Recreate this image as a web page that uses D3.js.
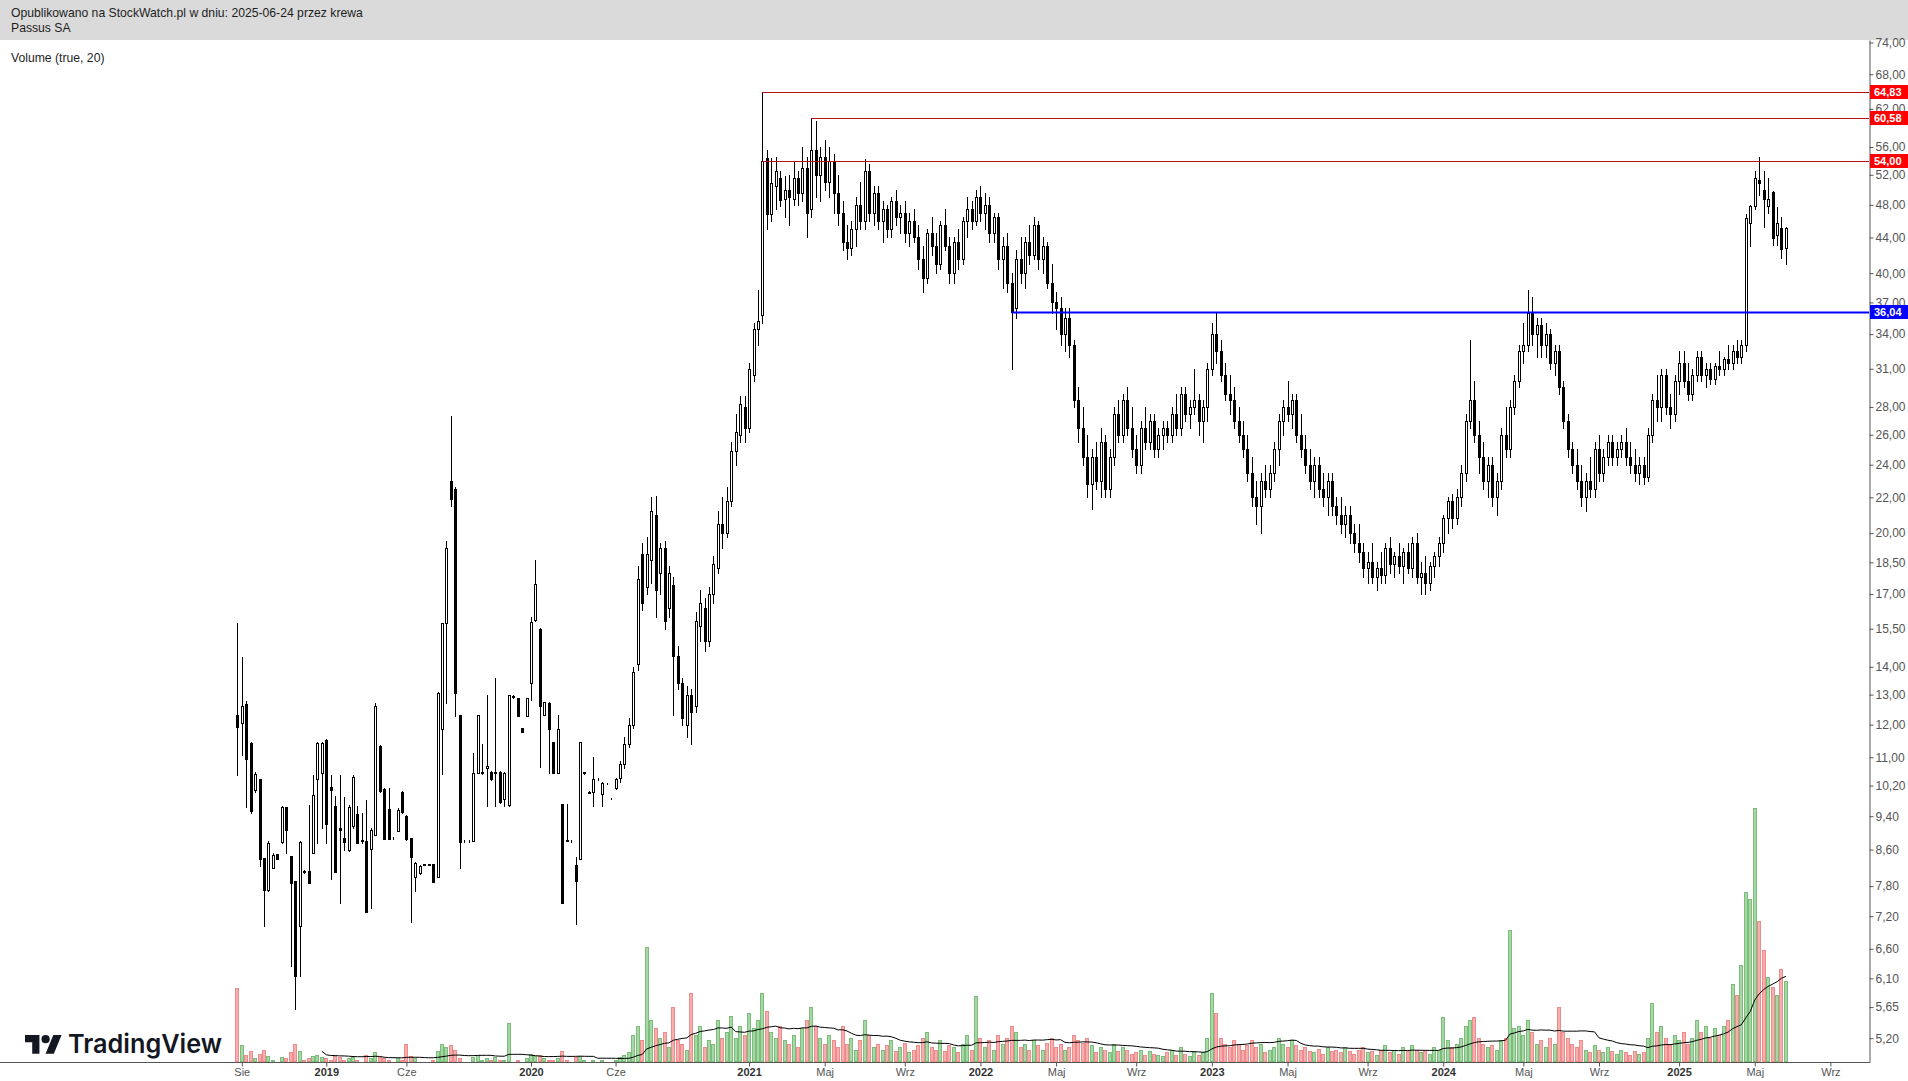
<!DOCTYPE html>
<html><head><meta charset="utf-8">
<script src="https://cdn.jsdelivr.net/npm/d3@7"></script>
<style>
html,body{margin:0;padding:0;background:#fff;}
svg{display:block;font-family:"Liberation Sans",Arial,sans-serif;}
</style></head><body>
<svg id="c" width="1908" height="1081"></svg>
<script>
// Weekly candles, Passus SA, Aug 2018 – Jun 2025
const opens=[
12.31,12.05,12.68,11.43,10.08,10.38,8.40,7.72,8.18,8.50,
8.78,9.63,8.45,7.91,7.02,8.12,8.12,8.52,10.38,10.55,
11.52,10.15,9.65,9.10,8.87,8.59,9.15,9.45,8.82,8.80,
8.61,8.95,11.34,10.10,9.57,8.88,9.03,10.03,9.40,8.88,
7.99,8.07,8.27,8.27,8.27,7.99,11.87,15.73,23.00,22.50,
12.31,8.80,8.80,8.80,10.55,10.55,10.70,10.57,10.55,10.57,
9.84,9.68,12.95,12.87,11.90,12.27,13.40,15.86,15.50,12.31,
12.71,11.46,10.55,9.70,8.82,8.80,8.26,8.38,10.55,10.03,
10.03,10.38,9.97,10.24,9.87,10.13,10.40,10.80,11.40,12.00,
14.10,18.90,17.30,18.60,21.00,18.00,19.20,16.40,17.40,14.40,
13.40,12.00,13.00,12.60,15.60,16.40,15.00,17.00,18.20,20.50,
20.00,21.80,24.90,26.00,28.00,26.50,30.50,34.50,35.80,54.40,
46.80,50.50,51.50,48.80,50.00,48.80,51.50,49.50,53.00,47.50,
55.50,52.00,54.50,51.00,54.00,49.50,47.00,43.50,42.80,45.00,
48.00,46.00,52.50,47.00,49.50,46.00,47.50,45.00,48.50,46.50,
47.00,44.50,46.00,44.00,41.50,39.50,44.50,43.00,41.00,45.50,
43.00,40.00,43.50,41.50,46.00,47.50,46.00,49.00,47.00,48.00,
44.50,46.50,41.50,43.00,39.00,36.50,41.50,40.00,43.50,42.00,
45.50,41.50,43.00,39.00,37.00,36.50,34.00,35.50,33.00,28.50,
26.50,24.50,22.80,24.50,23.00,25.50,22.50,24.50,27.50,26.00,
28.50,26.50,25.00,24.00,26.50,25.50,27.00,25.00,26.00,26.50,
26.00,27.50,26.50,29.00,27.50,28.00,28.50,27.00,28.00,31.00,
34.00,32.50,30.50,29.00,28.50,27.00,26.00,25.00,23.50,22.00,
21.50,23.00,22.50,23.50,25.00,27.00,28.00,27.50,28.50,26.00,
25.00,24.00,23.00,24.00,22.50,22.00,23.00,21.50,21.00,20.50,
21.00,20.00,19.50,19.00,18.20,18.50,17.80,18.20,17.90,19.20,
18.40,18.80,18.30,19.00,18.20,19.50,17.80,18.00,17.50,18.30,
18.80,19.50,20.80,21.80,20.80,22.00,23.50,27.00,28.50,26.00,
24.50,23.00,24.00,22.00,23.00,26.00,25.00,28.00,30.00,32.50,
33.00,36.00,34.00,34.80,33.00,34.00,31.50,32.50,29.50,27.00,
25.00,24.00,23.00,22.00,23.00,22.50,25.00,23.50,24.50,25.50,
24.50,25.00,25.50,24.50,24.00,23.50,24.00,23.20,26.00,28.50,
28.00,30.50,28.00,27.50,30.00,31.50,30.00,29.00,30.50,32.00,
30.50,31.00,30.20,31.20,31.00,31.80,31.50,32.50,32.00,33.00,
45.70,47.80,51.30,49.90,47.80,49.70,44.30,45.10,42.80];
const highs=[
15.73,14.36,12.78,11.46,10.57,10.38,8.40,8.80,8.52,8.50,
9.65,9.63,8.45,7.91,8.80,8.14,9.68,10.49,11.46,11.46,
11.55,10.49,9.92,10.49,9.89,9.68,10.49,9.65,9.47,9.81,
9.10,12.71,11.36,10.13,10.13,8.90,9.60,10.05,9.42,8.88,
8.31,8.25,8.28,8.28,8.27,13.09,15.73,19.60,27.30,22.60,
12.31,8.82,8.82,11.12,12.31,11.41,12.97,10.60,13.58,10.60,
10.57,13.00,12.98,12.88,11.90,12.87,15.99,18.60,15.53,12.76,
12.75,11.46,12.31,9.70,9.70,8.82,8.43,11.46,10.58,10.05,
11.00,10.40,10.30,10.26,9.88,10.40,10.90,11.60,12.20,14.00,
18.30,19.50,19.80,22.00,22.10,19.50,19.60,18.30,17.80,14.80,
13.60,13.30,13.20,16.20,17.20,16.80,17.30,18.80,21.20,22.00,
22.60,25.50,27.50,28.80,28.80,31.50,35.00,38.20,64.83,55.50,
54.40,54.50,52.50,51.80,52.00,54.00,52.50,56.00,54.50,60.58,
60.00,56.00,57.00,56.00,55.00,52.00,48.50,45.50,46.00,49.00,
51.00,54.30,53.50,50.50,50.50,48.50,48.00,49.00,50.00,48.00,
48.50,47.00,47.50,45.50,43.00,45.00,46.50,44.50,46.00,47.50,
44.00,44.00,45.00,46.50,49.00,48.50,50.00,50.50,49.50,49.00,
47.00,47.00,44.00,44.50,40.00,42.50,44.00,44.00,45.50,46.50,
46.00,44.00,43.50,41.00,38.00,37.50,36.50,36.50,33.50,29.50,
28.00,26.00,25.00,25.50,26.50,26.00,25.00,28.00,28.50,29.00,
29.50,28.00,26.00,27.00,28.00,27.50,27.50,26.50,27.00,27.00,
28.00,29.00,29.50,29.50,28.50,31.00,29.00,28.50,31.50,35.00,
36.10,33.50,31.50,30.50,29.50,28.00,27.00,26.00,24.50,23.00,
23.50,24.00,24.00,25.50,27.50,28.50,30.00,29.00,29.00,27.50,
26.00,25.00,24.50,24.50,23.50,23.50,23.50,22.00,22.00,21.50,
21.50,20.50,20.50,19.50,19.00,19.50,18.50,19.00,19.50,19.80,
19.00,19.50,19.20,19.50,19.80,20.00,18.50,18.80,18.50,19.00,
19.80,21.00,22.00,22.20,22.50,24.00,27.50,33.50,30.00,27.00,
25.50,24.50,24.50,23.50,26.50,28.00,28.50,30.50,33.00,35.00,
38.20,37.50,35.50,35.50,35.00,34.50,33.00,33.00,30.00,27.50,
25.50,25.00,24.00,23.50,24.50,25.50,26.00,25.00,26.00,26.00,
25.50,26.00,26.50,25.50,25.00,24.50,24.50,26.50,29.00,30.50,
31.00,31.00,29.00,30.50,32.50,32.50,31.50,31.00,32.50,32.50,
31.50,31.50,31.50,32.50,32.00,33.00,33.00,33.50,33.50,46.80,
48.00,52.60,54.50,52.60,51.60,49.80,47.70,46.50,45.20];
const lows=[
10.49,11.07,9.63,9.47,10.02,8.23,7.02,7.70,8.18,8.38,
8.76,8.52,6.30,5.62,6.13,8.08,7.87,8.52,8.76,9.10,
8.76,7.95,8.10,7.46,8.59,8.57,9.10,8.76,8.76,7.28,
7.36,8.95,10.03,8.84,8.84,8.84,9.03,9.48,8.82,7.09,
7.70,8.05,8.25,8.25,7.89,7.99,10.52,12.70,21.50,12.27,
8.18,8.78,8.78,8.80,10.55,10.52,9.65,10.35,9.65,9.74,
9.65,9.65,12.90,12.27,11.77,12.27,12.81,15.80,10.71,12.30,
10.55,10.55,10.55,7.46,8.80,8.78,7.05,8.38,10.52,10.00,
9.65,10.36,9.65,10.23,9.85,10.10,10.30,10.70,11.30,11.90,
13.90,16.30,17.00,17.50,16.00,17.00,15.50,16.00,12.30,13.20,
12.00,11.60,11.40,12.40,15.00,14.60,14.80,16.60,18.00,19.20,
19.80,21.50,24.00,25.50,25.50,26.20,30.00,33.00,35.00,45.00,
46.00,47.50,47.80,46.50,45.50,48.00,48.00,48.50,44.00,46.50,
49.00,48.50,50.00,49.00,47.00,45.50,42.50,41.50,42.00,43.00,
45.00,45.00,46.00,45.50,45.00,43.50,44.00,44.00,45.50,44.50,
43.50,43.00,43.50,40.50,38.00,39.00,42.00,40.00,40.50,42.50,
39.00,39.00,40.50,41.00,44.00,45.00,45.50,46.00,45.00,43.50,
43.50,40.50,38.50,38.00,31.00,35.50,39.00,38.50,41.00,41.50,
40.50,40.00,38.50,36.00,34.50,33.00,32.50,32.00,28.00,25.50,
24.00,22.00,21.30,22.50,22.00,22.00,22.00,24.00,25.50,25.50,
26.00,24.50,23.50,23.50,25.00,25.00,24.50,24.50,25.00,25.50,
25.50,26.00,26.00,27.00,26.50,27.50,26.00,25.50,27.00,30.50,
31.50,30.00,28.50,27.50,26.50,25.50,24.50,23.00,21.50,20.50,
20.00,22.00,22.00,23.00,24.00,26.00,27.00,26.50,25.50,24.50,
23.50,22.50,22.00,22.00,21.50,21.00,21.00,20.50,20.00,19.80,
19.50,19.00,18.50,17.80,17.50,17.50,17.20,17.50,17.50,18.00,
17.80,18.00,17.50,18.00,17.80,17.50,17.00,17.00,17.20,17.80,
18.30,19.00,20.00,20.30,20.50,21.50,23.00,26.50,25.50,23.50,
22.50,22.00,21.50,21.00,22.50,24.50,24.50,27.50,29.50,31.50,
32.50,33.00,32.00,32.00,32.00,31.00,30.50,29.00,26.50,24.50,
23.50,22.50,21.50,21.20,22.00,22.00,23.00,23.00,24.00,24.00,
24.00,24.50,24.00,23.50,23.00,22.80,22.80,23.00,25.50,27.00,
27.00,27.50,26.50,27.00,29.00,29.50,28.50,28.50,30.00,30.00,
29.50,29.80,29.80,30.50,30.50,31.00,31.00,31.50,31.50,32.50,
43.00,47.50,49.30,45.30,47.00,43.10,43.10,41.70,41.00];
const closes=[
11.92,12.60,10.95,9.52,10.52,8.38,7.72,8.76,8.47,8.38,
9.63,9.05,7.87,6.13,8.78,8.10,7.87,9.94,11.43,11.43,
9.20,10.08,8.10,9.05,8.78,9.63,10.44,8.76,8.80,7.28,
9.05,12.62,10.05,8.84,8.84,8.86,9.55,9.50,8.84,8.43,
8.29,8.22,8.26,8.26,7.89,13.05,15.73,19.20,21.90,13.05,
8.78,8.80,8.80,10.55,12.31,10.57,10.75,10.38,10.57,9.76,
10.55,12.97,12.92,12.27,11.77,12.87,15.78,17.45,12.60,12.75,
11.87,10.55,11.87,7.46,8.80,8.80,7.91,11.46,10.57,10.01,
10.38,10.39,10.27,10.25,9.86,10.38,10.80,11.40,12.00,13.80,
17.70,16.60,18.90,21.20,17.20,19.20,15.80,18.00,14.40,13.40,
12.20,13.00,12.40,15.80,16.60,15.00,17.00,18.40,20.50,20.00,
21.80,24.90,26.20,28.20,26.50,31.00,34.50,35.20,54.00,46.80,
50.90,52.50,48.60,50.00,49.00,51.50,49.50,53.00,47.00,55.50,
52.00,54.50,51.00,54.00,49.50,47.00,43.50,42.80,45.00,48.00,
46.00,52.50,47.00,49.50,46.00,47.50,45.00,48.50,46.50,47.00,
44.50,46.00,44.00,41.50,39.50,44.50,43.00,41.00,45.50,43.00,
40.00,43.50,41.50,46.00,47.50,46.00,49.00,47.00,48.00,44.50,
46.50,41.50,43.00,39.00,36.04,41.50,40.00,43.50,42.00,45.50,
41.50,43.00,39.00,37.00,36.50,34.00,35.50,33.00,28.50,26.50,
24.50,22.80,24.50,23.00,25.50,22.50,24.50,27.50,26.00,28.50,
26.50,25.00,24.00,26.50,25.50,27.00,25.00,26.00,26.50,26.00,
27.50,26.50,29.00,27.50,28.00,28.50,27.00,28.00,31.00,34.00,
32.50,30.50,29.00,28.50,27.00,26.00,25.00,23.50,22.00,21.50,
23.00,22.50,23.50,25.00,27.00,28.00,27.50,28.50,26.00,25.00,
24.00,23.00,24.00,22.50,22.00,23.00,21.50,21.00,20.50,21.00,
20.00,19.50,19.00,18.20,18.50,17.80,18.20,17.90,19.20,18.40,
18.80,18.30,19.00,18.20,19.50,17.80,18.00,17.50,18.30,18.80,
19.50,20.80,21.80,20.80,22.00,23.50,27.00,28.50,26.00,24.50,
23.00,24.00,22.00,23.00,26.00,25.00,28.00,30.00,32.50,33.00,
36.00,34.00,34.80,33.00,34.00,31.50,32.50,29.50,27.00,25.00,
24.00,23.00,22.00,23.00,22.50,25.00,23.50,24.50,25.50,24.50,
25.00,25.50,24.50,24.00,23.50,24.00,23.20,26.00,28.50,28.00,
30.50,28.00,27.50,30.00,31.50,30.00,29.00,30.50,32.00,30.50,
31.00,30.20,31.20,31.00,31.80,31.50,32.50,32.00,33.00,46.30,
47.80,51.50,50.90,48.70,48.70,43.90,45.70,42.70,45.10];
// weekly volume (relative units)
const volumes=[
61,14,6,9,3,7,10,5,2,1, 4,3,8,15,9,2,3,5,6,4, 3,2,5,4,2,3,4,2,1,6,
3,8,4,3,2,1,3,2,15,5, 3,1,1,1,2,9,15,12,14,10, 3,1,1,4,6,2,3,2,4,2,
2,32,1,2,1,3,7,5,6,3, 2,2,3,9,2,1,4,5,2,1, 2,1,2,1,1,2,
4,6,8,22,30,18,95,35,28,20, 25,12,45,18,15,10,57,22,30,12, 18,15,35,20,25,38,20,30,22,40, 28,35,57,
42,25,20,30,18,15,22,12,28,35, 45,30,20,15,22,18,12,30,15,20, 10,18,35,22,12,15,10,14,18,9,
12,16,8,10,14,20,25,12,10,18, 9,14,12,8,15,22,10,54,
20,12,18,10,22,15,20,30,25,12, 15,10,18,14,10,16,20,12,15,10, 12,22,18,16,20,14,8,12,10,8,
15,9,12,10,7,8,10,6,9,7, 6,5,8,10,6,12,7,5,9,6, 8,20,
57,40,20,15,12,18,15,10,14,18, 12,15,8,10,12,20,15,12,18,14, 10,12,9,8,11,7,12,9,10,8,
12,9,7,10,12,8,9,6,10,14, 8,10,7,12,9,14,10,8,9,7, 12,10,
37,18,12,15,20,30,35,37,20,15, 12,14,10,18,20,109,28,30,22,35, 25,15,18,12,20,15,45,25,20,15,
12,18,10,8,14,10,8,12,9,7, 10,8,6,9,7,8,20,49,25,30, 20,15,22,18,25,15,20,35,25,30,
20,28,22,30,35,64,55,80,140,134, 209,116,92,70,62,55,77,67];

const priceTicks=[74,68,62,56,52,48,44,40,37,34,31,28,26,24,22,20,18.5,17,15.5,14,13,12,11,10.2,9.4,8.6,7.8,7.2,6.6,6.1,5.65,5.2];
const timeTickIdx=[1,20,38,66,85,115,132,150,167,184,202,219,236,254,271,289,306,324,341,358];
const timeTickLabels=["Sie","2019","Cze","2020","Cze","2021","Maj","Wrz","2022","Maj","Wrz","2023","Maj","Wrz","2024","Maj","Wrz","2025","Maj","Wrz"];
const levelValues=[64.83,60.58,54.00,36.04];
const levelStartBar=[118,129,118,174];
const levelKinds=["res","res","res","sup"];
const maPeriod=20;

const W=1908,H=1081;
const plotRight=1869, plotTop=40, plotBottom=1062;
const svg=d3.select("#c");
svg.append("rect").attr("width",W).attr("height",H).attr("fill","#fff");

const N=closes.length;
const x=d3.scaleLinear().domain([0,N-1]).range([237.3,237.3+4.45*(N-1)]);
const y=d3.scaleLog().domain([4.88,74.5]).range([plotBottom,plotTop]);
const yv=d3.scaleLinear().domain([0,210]).range([plotBottom,plotBottom-255]);
const idx=d3.range(N);
const px=i=>Math.round(x(i));

// header
svg.append("rect").attr("x",0).attr("y",0).attr("width",W).attr("height",40).attr("fill","#dadada");
const hdr=svg.append("g").attr("fill","#1e1e1e").style("font-size","12.2px");
hdr.append("text").attr("x",11).attr("y",17).text("Opublikowano na StockWatch.pl w dniu: 2025-06-24 przez krewa");
hdr.append("text").attr("x",11).attr("y",32).text("Passus SA");
hdr.append("text").attr("x",11).attr("y",62).text("Volume (true, 20)");

// volume
const up=i=>closes[i]>=opens[i];
const gv=svg.append("g");
gv.selectAll("rect").data(idx).join("rect")
  .attr("x",i=>px(i)-1.5).attr("width",3)
  .attr("y",i=>Math.round(yv(volumes[i]))+0.5)
  .attr("height",i=>Math.max(0,plotBottom-Math.round(yv(volumes[i]))-1))
  .attr("fill",i=>up(i)?"#a6d8a6":"#f7aeae")
  .attr("stroke",i=>up(i)?"#7cbd7c":"#ee8c8c").attr("stroke-width",1);
// volume moving average
const ma=idx.map(i=>i<maPeriod-1?null:d3.mean(volumes.slice(i-maPeriod+1,i+1)));
svg.append("path").datum(idx.filter(i=>ma[i]!==null))
  .attr("fill","none").attr("stroke","#000").attr("stroke-width",1)
  .attr("d",d3.line().x(i=>x(i)).y(i=>yv(ma[i])));

// candles
const gc=svg.append("g").attr("shape-rendering","crispEdges");
gc.selectAll("line").data(idx).join("line")
  .attr("x1",i=>px(i)+0.5).attr("x2",i=>px(i)+0.5)
  .attr("y1",i=>Math.round(y(highs[i]))).attr("y2",i=>Math.round(y(lows[i]))+1)
  .attr("stroke","#000").attr("stroke-width",1);
gc.selectAll("rect").data(idx).join("rect")
  .attr("x",i=>px(i)-0.5).attr("width",2)
  .attr("y",i=>Math.round(y(Math.max(opens[i],closes[i])))+0.5)
  .attr("height",i=>Math.max(0,Math.round(y(Math.min(opens[i],closes[i])))-Math.round(y(Math.max(opens[i],closes[i])))))
  .attr("fill",i=>closes[i]>opens[i]?"#fff":"#000")
  .attr("stroke","#000").attr("stroke-width",1);

// horizontal levels
const gl=svg.append("g");
levelValues.forEach((v,j)=>{
  const yy=Math.round(y(v))+0.5;
  const col=levelKinds[j]==="sup"?"#0000ff":"#b3121d";
  gl.append("line").attr("x1",x(levelStartBar[j])).attr("x2",plotRight).attr("y1",yy).attr("y2",yy)
    .attr("stroke",col).attr("stroke-width",levelKinds[j]==="sup"?2:1);
});

// axes
const fmt=d3.formatLocale({decimal:",",thousands:" ",grouping:[3],currency:["","zł"]}).format(".2f");
const gy=svg.append("g").attr("transform",`translate(${plotRight+0.5},0)`)
  .call(d3.axisRight(y).tickValues(priceTicks).tickFormat(fmt).tickSize(4).tickSizeOuter(0));
gy.select(".domain").attr("stroke","#555");
gy.selectAll(".tick line").attr("stroke","#555");
gy.selectAll(".tick text").attr("fill","#555").attr("x",6).style("font-size","12px").style("font-family","'Liberation Sans',Arial,sans-serif");

svg.append("line").attr("x1",0).attr("x2",plotRight+1).attr("y1",plotBottom+0.5).attr("y2",plotBottom+0.5).attr("stroke","#555");
const gx=svg.append("g").attr("transform",`translate(0,${plotBottom+0.5})`)
  .call(d3.axisBottom(x).tickValues(timeTickIdx).tickFormat((d,i)=>timeTickLabels[i]).tickSize(4).tickSizeOuter(0));
gx.select(".domain").remove();
gx.selectAll(".tick line").attr("stroke","#555");
gx.selectAll(".tick text").attr("y",6)
  .style("font-size","11px").style("font-family","'Liberation Sans',Arial,sans-serif")
  .style("font-weight",(d,i)=>/^\d{4}$/.test(timeTickLabels[i])?"bold":"normal")
  .attr("fill",(d,i)=>/^\d{4}$/.test(timeTickLabels[i])?"#333":"#555");

// price level labels on axis
levelValues.forEach((v,j)=>{
  const yy=y(v);
  const col=levelKinds[j]==="sup"?"#0000ff":"#ff0000";
  svg.append("rect").attr("x",plotRight+1).attr("y",Math.round(yy-7)).attr("width",W-plotRight-1).attr("height",14).attr("fill",col);
  svg.append("text").attr("x",plotRight+5).attr("y",yy+4).attr("fill","#fff")
    .style("font-size","11px").style("font-weight","bold").text(fmt(v));
});

// TradingView logo
const lg=svg.append("g").attr("transform","translate(25,1031) scale(1.03)").attr("fill","#131722");
lg.append("path").attr("d","M14 22H7V11H0V4h14v18z");
lg.append("circle").attr("cx",20).attr("cy",8).attr("r",4);
lg.append("path").attr("d","M28 22h-8l7.5-18h8L28 22z");
svg.append("text").attr("x",68).attr("y",1053).attr("fill","#131722")
  .style("font-family","Inter,'Noto Sans',sans-serif").style("font-weight","600").style("font-size","26px")
  .attr("textLength",154).attr("lengthAdjust","spacingAndGlyphs").text("TradingView");
</script>
</body></html>
